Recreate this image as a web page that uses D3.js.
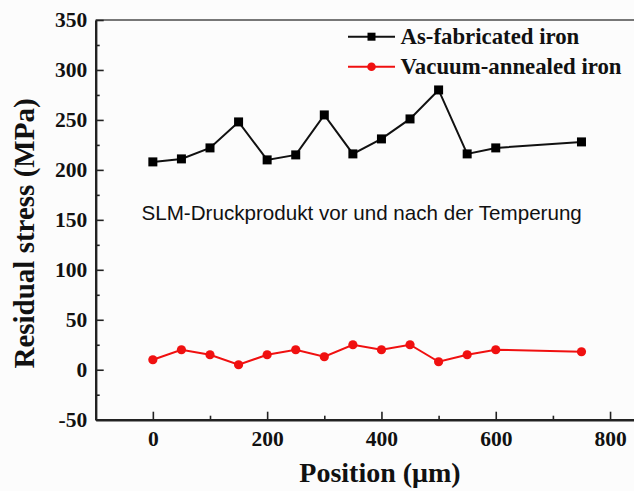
<!DOCTYPE html>
<html lang="en">
<head>
  <meta charset="UTF-8">
  <title>Residual stress vs position</title>
  <script src="https://d3js.org/d3.v7.min.js"></script>
  <style>
    body { margin: 0; background: #fcfcfc; }
    svg { display: block; }
    .tick text { font-family: "Liberation Serif", "Times New Roman", serif; font-weight: bold; font-size: 21.5px; fill: #111; }
    .axis path, .axis line { stroke: #222; }
  </style>
</head>
<body>
  <div id="chart"></div>
  <script>
    const positions = [0, 50, 100, 150, 200, 250, 300, 350, 400, 450, 500, 550, 600, 750];
    const asFabricated = [208, 211, 222, 248, 210, 215, 255, 216, 231, 251, 280, 216, 222, 228];
    const vacuumAnnealed = [10, 20, 15, 5, 15, 20, 13, 25, 20, 25, 8, 15, 20, 18];
    const seriesNames = ['As-fabricated iron', 'Vacuum-annealed iron'];
    const xMajorTicks = [0, 200, 400, 600, 800];
    const xMinorTicks = [100, 300, 500, 700];
    const yMajorTicks = [-50, 0, 50, 100, 150, 200, 250, 300, 350];
    const yMinorTicks = [-25, 25, 75, 125, 175, 225, 275, 325];

    const W = 634, H = 491;
    const svg = d3.select('#chart').append('svg')
      .attr('width', W)
      .attr('height', H);

    // plot is cropped on the right, so the x range runs past the svg edge
    const x = d3.scaleLinear().domain([-100, 900]).range([95.7, 667.2]);
    const y = d3.scaleLinear().domain([-50, 350]).range([419.7, 20]);

    // top frame line
    svg.append('line')
      .attr('x1', x(-100)).attr('x2', x(900))
      .attr('y1', y(350)).attr('y2', y(350))
      .attr('stroke', '#777').attr('stroke-width', 2.2);

    // minor ticks
    svg.append('g')
      .attr('class', 'axis')
      .attr('transform', `translate(0,${y(-50)})`)
      .call(d3.axisBottom(x).tickValues(xMinorTicks).tickSize(-4).tickFormat(''))
      .call(g => g.select('.domain').remove())
      .selectAll('line').attr('stroke-width', 1.6);
    svg.append('g')
      .attr('class', 'axis')
      .attr('transform', `translate(${x(-100)},0)`)
      .call(d3.axisLeft(y).tickValues(yMinorTicks).tickSize(-4).tickFormat(''))
      .call(g => g.select('.domain').remove())
      .selectAll('line').attr('stroke-width', 1.6);

    // major axes (plain hyphen for negatives, like the original)
    const plain = d => String(d);
    const xAxisG = svg.append('g')
      .attr('class', 'axis')
      .attr('transform', `translate(0,${y(-50)})`)
      .call(d3.axisBottom(x).tickValues(xMajorTicks).tickFormat(plain).tickSize(-8).tickSizeOuter(0).tickPadding(11));
    xAxisG.select('.domain').attr('stroke-width', 2.4);
    xAxisG.selectAll('.tick line').attr('stroke-width', 1.6);

    const yAxisG = svg.append('g')
      .attr('class', 'axis')
      .attr('transform', `translate(${x(-100)},0)`)
      .call(d3.axisLeft(y).tickValues(yMajorTicks).tickFormat(plain).tickSize(-8).tickSizeOuter(0).tickPadding(8.5));
    yAxisG.select('.domain').attr('stroke-width', 2.4);
    yAxisG.selectAll('.tick line').attr('stroke-width', 1.6);

    // axis titles
    svg.append('text')
      .attr('x', 380)
      .attr('y', 481.5)
      .attr('text-anchor', 'middle')
      .style('font-family', '"Liberation Serif", "Times New Roman", serif')
      .style('font-weight', 'bold')
      .style('font-size', '28px')
      .attr('fill', '#111')
      .text('Position (μm)');

    svg.append('text')
      .attr('transform', 'translate(33.5,233.5) rotate(-90)')
      .attr('text-anchor', 'middle')
      .style('font-family', '"Liberation Serif", "Times New Roman", serif')
      .style('font-weight', 'bold')
      .style('font-size', '29px')
      .attr('fill', '#111')
      .text('Residual stress (MPa)');

    // series
    const line = d3.line().x(d => x(d[0])).y(d => y(d[1]));
    const blackData = positions.map((p, i) => [p, asFabricated[i]]);
    const redData = positions.map((p, i) => [p, vacuumAnnealed[i]]);

    svg.append('path')
      .datum(blackData)
      .attr('d', line)
      .attr('fill', 'none')
      .attr('stroke', '#111')
      .attr('stroke-width', 2);
    svg.selectAll('rect.pt')
      .data(blackData)
      .join('rect')
      .attr('class', 'pt')
      .attr('x', d => x(d[0]) - 4.5)
      .attr('y', d => y(d[1]) - 4.5)
      .attr('width', 9)
      .attr('height', 9)
      .attr('fill', '#000');

    svg.append('path')
      .datum(redData)
      .attr('d', line)
      .attr('fill', 'none')
      .attr('stroke', '#f01010')
      .attr('stroke-width', 2);
    svg.selectAll('circle.pt')
      .data(redData)
      .join('circle')
      .attr('class', 'pt')
      .attr('cx', d => x(d[0]))
      .attr('cy', d => y(d[1]))
      .attr('r', 4.6)
      .attr('fill', '#f01010');

    // legend
    const legend = svg.append('g');
    const legendColors = ['#111', '#f01010'];
    seriesNames.forEach((name, i) => {
      const cy = 36.7 + i * 30;
      const g = legend.append('g');
      g.append('line')
        .attr('x1', 348).attr('x2', 395)
        .attr('y1', cy).attr('y2', cy)
        .attr('stroke', legendColors[i])
        .attr('stroke-width', 2);
      if (i === 0) {
        g.append('rect')
          .attr('x', 371.5 - 4).attr('y', cy - 4)
          .attr('width', 8).attr('height', 8)
          .attr('fill', '#000');
      } else {
        g.append('circle')
          .attr('cx', 371.5).attr('cy', cy)
          .attr('r', 4.3)
          .attr('fill', legendColors[i]);
      }
      g.append('text')
        .attr('x', 400.5)
        .attr('y', cy + 7)
        .style('font-family', '"Liberation Serif", "Times New Roman", serif')
        .style('font-weight', 'bold')
        .style('font-size', '22.8px')
        .attr('fill', '#111')
        .text(name);
    });

    // annotation
    svg.append('text')
      .attr('x', 141.5)
      .attr('y', 220)
      .style('font-family', '"Liberation Sans", Arial, sans-serif')
      .style('font-size', '20.6px')
      .attr('fill', '#111')
      .text('SLM-Druckprodukt vor und nach der Temperung');
  </script>
</body>
</html>
